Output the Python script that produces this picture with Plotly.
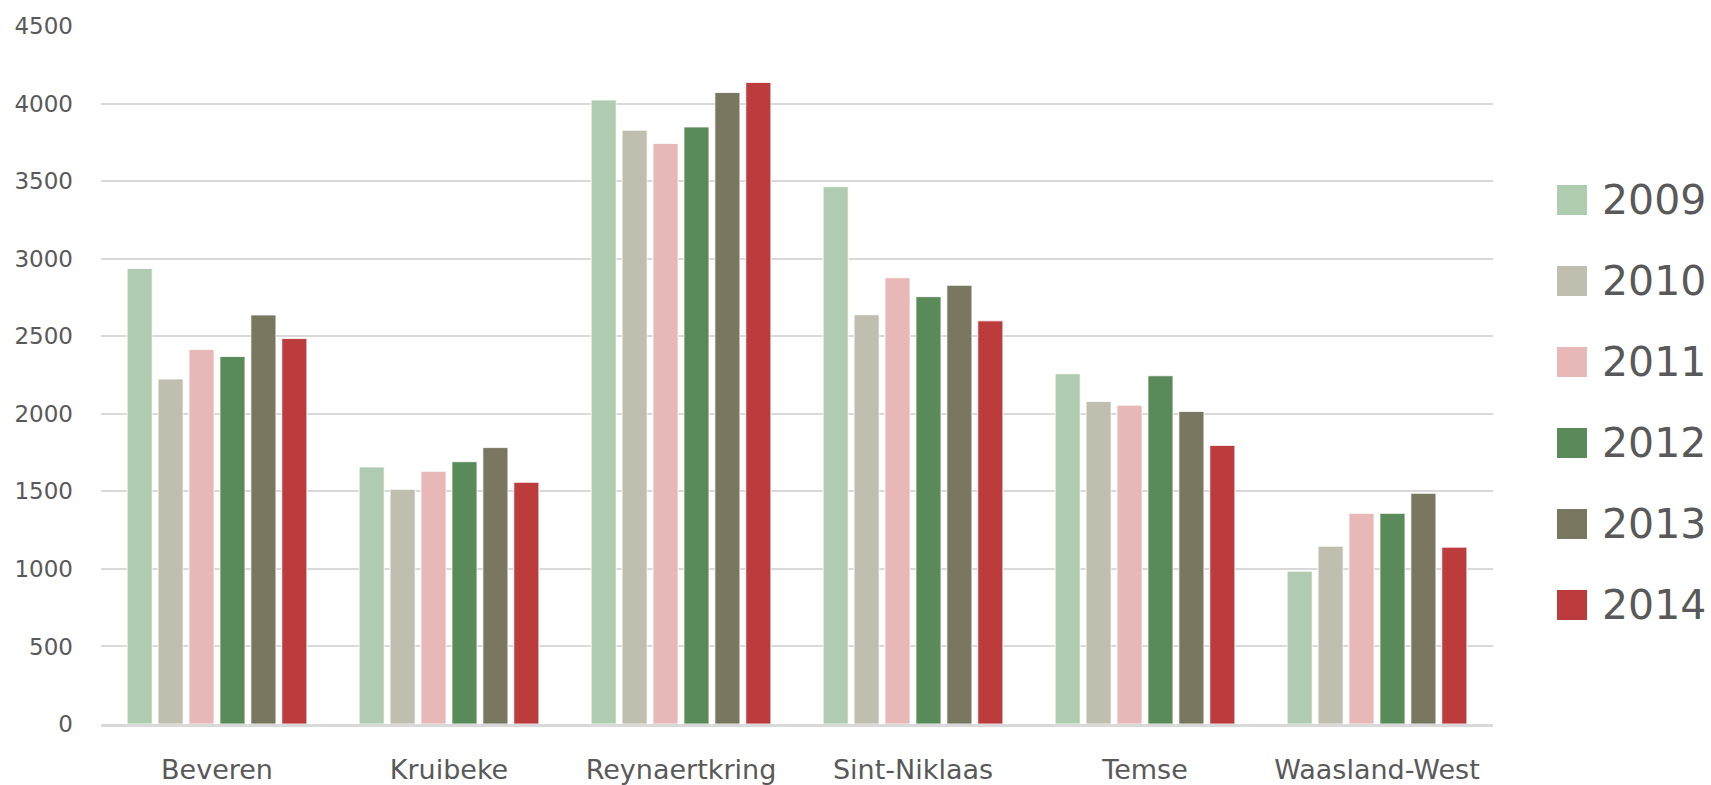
import plotly.graph_objects as go

categories = ["Beveren", "Kruibeke", "Reynaertkring", "Sint-Niklaas", "Temse", "Waasland-West"]
years = ["2009", "2010", "2011", "2012", "2013", "2014"]

v2009 = [2937, 1657, 4023, 3464, 2258, 985]
v2010 = [2224, 1513, 3828, 2638, 2079, 1146]
v2011 = [2414, 1629, 3742, 2877, 2055, 1358]
v2012 = [2369, 1691, 3849, 2755, 2245, 1358]
v2013 = [2637, 1782, 4071, 2828, 2015, 1487]
v2014 = [2485, 1558, 4136, 2599, 1796, 1140]

colors = ["#AFCBB0", "#C0BEAF", "#E8B7B7", "#5A8A59", "#797760", "#BC3C3D"]
series = [v2009, v2010, v2011, v2012, v2013, v2014]

FONT = "DejaVu Sans"
TXT = "#595959"

fig = go.Figure()
for name, vals, col in zip(years, series, colors):
    fig.add_trace(go.Bar(
        x=categories, y=vals, name=name,
        marker=dict(color=col, line=dict(color="rgba(255,255,255,0.8)", width=1)),
        showlegend=False,
    ))

# custom legend (large squares) built from the series list
PL, PR, PT, PB = 101, 1493, 26, 724
pw, ph = PR - PL, PB - PT
shapes = []
annotations = []
for i, (name, col) in enumerate(zip(years, colors)):
    cy = 200 + 81 * i
    shapes.append(dict(type="rect", xref="paper", yref="paper",
                       x0=(1557 - PL) / pw, x1=(1587 - PL) / pw,
                       y0=(PB - cy - 15) / ph, y1=(PB - cy + 15) / ph,
                       fillcolor=col, line=dict(width=0)))
    annotations.append(dict(xref="paper", yref="paper",
                            x=(1600 - PL) / pw, y=(PB - cy) / ph,
                            text=name, showarrow=False, xanchor="left", yanchor="middle",
                            font=dict(family=FONT, size=41, color=TXT)))

fig.update_layout(
    width=1711, height=785,
    margin=dict(l=PL, r=1711 - PR, t=PT, b=785 - PB, autoexpand=False),
    paper_bgcolor="white", plot_bgcolor="white",
    barmode="group", bargap=0.2, bargroupgap=0.19,
    shapes=shapes, annotations=annotations,
    font=dict(family=FONT, color=TXT),
    showlegend=False,
)
fig.update_yaxes(
    range=[0, 4500], dtick=500, tick0=0, automargin=False,
    showgrid=True, gridcolor="#D9D9D9", gridwidth=1.5,
    zeroline=False, showline=False,
    tickfont=dict(family=FONT, size=23, color=TXT),
    ticklabelstandoff=27,
)
fig.update_xaxes(
    automargin=False,
    showline=True, linecolor="#D9D9D9", linewidth=2.5,
    tickfont=dict(family=FONT, size=27, color=TXT),
    ticklabelstandoff=20,
)

fig.write_html(
    "out.html",
    config={"displayModeBar": False},
    post_script="document.body.style.margin='0';document.body.style.overflow='hidden';",
)
